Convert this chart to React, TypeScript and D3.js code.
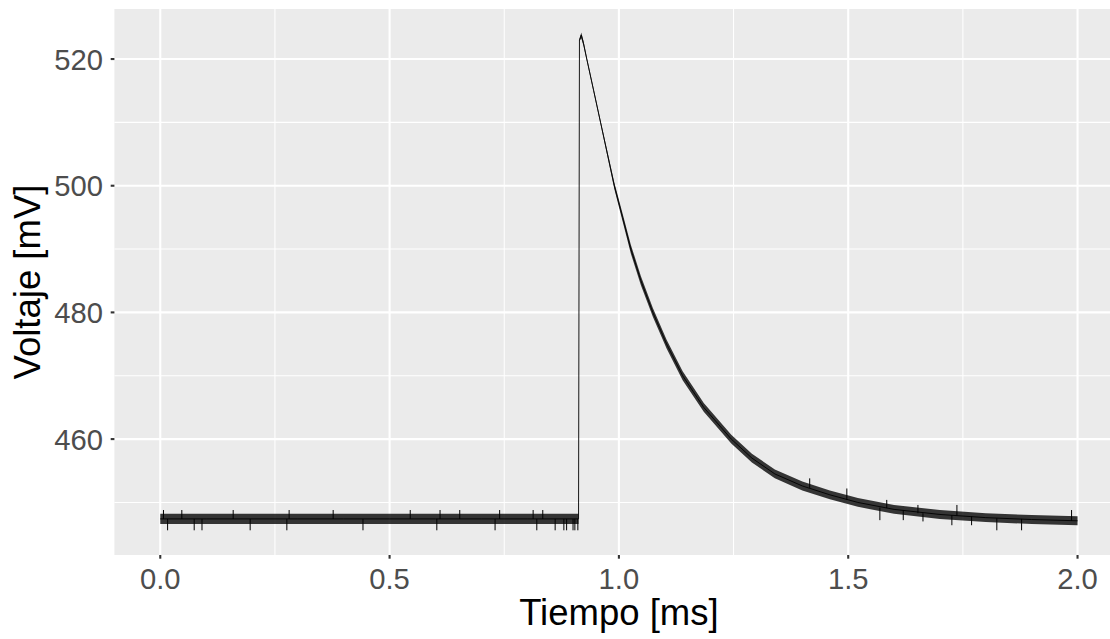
import React from "react";
import * as d3 from "d3";

// Trace (time in ms, voltage in mV)
const timeMs = [
  0.0, 0.1, 0.2, 0.3, 0.4, 0.5, 0.6, 0.7, 0.8, 0.912,
  0.914, 0.918, 0.923, 0.93, 0.945, 0.96, 0.975, 0.99, 1.008, 1.026,
  1.048, 1.074, 1.104, 1.139, 1.185, 1.245, 1.29, 1.34, 1.4, 1.46,
  1.521, 1.6, 1.7, 1.8, 1.9, 2.0,
];
const voltageMv = [
  447.4, 447.4, 447.4, 447.4, 447.4, 447.4, 447.4, 447.4, 447.4, 447.4,
  523.0, 523.8, 522.4, 520.0, 515.0, 510.0, 505.0, 500.0, 495.0, 490.0,
  485.0, 480.0, 475.0, 470.0, 465.0, 460.0, 457.0, 454.5, 452.6, 451.2,
  450.0, 448.9, 448.1, 447.6, 447.3, 447.1,
];
// Dense noise band (lower / upper edges)
const lowMv = [
  446.6, 446.6, 446.6, 446.6, 446.6, 446.6, 446.6, 446.6, 446.6, 446.6,
  522.8, 523.3, 522.0, 519.7, 514.7, 509.7, 504.6, 499.5, 494.4, 489.3,
  484.3, 479.3, 474.3, 469.3, 464.3, 459.3, 456.3, 453.8, 451.9, 450.5,
  449.3, 448.2, 447.4, 446.9, 446.6, 446.4,
];
const highMv = [
  448.2, 448.2, 448.2, 448.2, 448.2, 448.2, 448.2, 448.2, 448.2, 448.2,
  523.2, 524.2, 522.8, 520.3, 515.3, 510.3, 505.4, 500.5, 495.6, 490.7,
  485.7, 480.7, 475.7, 470.7, 465.7, 460.7, 457.7, 455.2, 453.3, 451.9,
  450.7, 449.6, 448.8, 448.3, 448.0, 447.8,
];
// Individual noise spikes visible in the picture
const spikeTimeMs = [
  0.016, 0.074, 0.091, 0.196, 0.276, 0.442, 0.603, 0.73, 0.821, 0.861, 0.88, 0.886, 0.9, 0.904, 0.9105,
  0.007, 0.047, 0.159, 0.281, 0.377, 0.545, 0.61, 0.653, 0.74, 0.813, 0.834,
  1.569, 1.62, 1.663, 1.726, 1.769, 1.824, 1.878,
  1.416, 1.497, 1.584, 1.652, 1.737, 1.987,
];
const spikeLowMv = [
  445.6, 445.6, 445.6, 445.6, 445.6, 445.6, 445.6, 445.6, 445.6, 445.6, 445.6, 445.6, 445.6, 445.6, 445.6,
  447.4, 447.4, 447.4, 447.4, 447.4, 447.4, 447.4, 447.4, 447.4, 447.4, 447.4,
  447.2, 447.2, 447.0, 446.4, 446.4, 445.6, 445.6,
  452.3, 450.4, 449.1, 448.3, 447.9, 447.1,
];
const spikeHighMv = [
  447.4, 447.4, 447.4, 447.4, 447.4, 447.4, 447.4, 447.4, 447.4, 447.4, 447.4, 447.4, 447.4, 447.4, 447.4,
  448.8, 448.8, 448.8, 448.8, 448.8, 448.8, 448.8, 448.8, 448.8, 448.8, 448.8,
  449.2, 448.8, 448.3, 448.0, 447.8, 447.5, 447.4,
  453.8, 452.2, 450.4, 449.6, 449.6, 448.8,
];

const xTicks = [0, 0.5, 1, 1.5, 2];
const xTickLabels = ["0.0", "0.5", "1.0", "1.5", "2.0"];
const xMinor = [0.25, 0.75, 1.25, 1.75];
const yTicks = [460, 480, 500, 520];
const yTickLabels = ["460", "480", "500", "520"];
const yMinor = [450, 470, 490, 510];

const W = 1110;
const H = 639;
const FONT = "'Liberation Sans', Arial, Helvetica, sans-serif";

export default function App() {
  const left = 114.4;
  const right = 1123.4;
  const top = 9;
  const bottom = 555;
  const x = d3.scaleLinear().domain([-0.1, 2.1]).range([left, right]);
  const y = d3.scaleLinear().domain([441.7, 527.9]).range([bottom, top]);

  const pts = timeMs.map((t, i) => ({ t, v: voltageMv[i], lo: lowMv[i], hi: highMv[i] }));
  const area = d3
    .area<any>()
    .x((d) => x(d.t))
    .y0((d) => y(d.lo))
    .y1((d) => y(d.hi));
  const line = d3
    .line<any>()
    .x((d) => x(d.t))
    .y((d) => y(d.v));

  const fs = 29.2;
  const titleFs = 36.5;

  return (
    <svg
      width={W}
      height={H}
      style={{ position: "absolute", left: 0, top: 0, background: "#fff" }}
      fontFamily={FONT}
    >
      <defs>
        <clipPath id="panel">
          <rect x={left} y={top} width={right - left} height={bottom - top} />
        </clipPath>
      </defs>
      <rect x={left} y={top} width={right - left} height={bottom - top} fill="#EBEBEB" />
      {xMinor.map((t) => (
        <line key={"xm" + t} x1={x(t)} x2={x(t)} y1={top} y2={bottom} stroke="#fff" strokeWidth={1.05} />
      ))}
      {yMinor.map((v) => (
        <line key={"ym" + v} x1={left} x2={right} y1={y(v)} y2={y(v)} stroke="#fff" strokeWidth={1.05} />
      ))}
      {xTicks.map((t) => (
        <line key={"xM" + t} x1={x(t)} x2={x(t)} y1={top} y2={bottom} stroke="#fff" strokeWidth={2.1} />
      ))}
      {yTicks.map((v) => (
        <line key={"yM" + v} x1={left} x2={right} y1={y(v)} y2={y(v)} stroke="#fff" strokeWidth={2.1} />
      ))}
      <g clipPath="url(#panel)">
        <path d={area(pts) || ""} fill="#000" fillOpacity={0.78} stroke="none" />
        {spikeTimeMs.map((t, i) => (
          <line
            key={"s" + i}
            x1={x(t)}
            x2={x(t)}
            y1={y(spikeLowMv[i])}
            y2={y(spikeHighMv[i])}
            stroke="#000"
            strokeWidth={1}
          />
        ))}
        <path d={line(pts) || ""} fill="none" stroke="#000" strokeWidth={0.9} />
      </g>
      {/* axes ticks */}
      {xTicks.map((t, i) => (
        <g key={"xt" + t}>
          <line x1={x(t)} x2={x(t)} y1={bottom} y2={bottom + 3.7} stroke="#333" strokeWidth={2.1} />
          <text x={x(t)} y={589.3} textAnchor="middle" fontSize={fs} fill="#4D4D4D">
            {xTickLabels[i]}
          </text>
        </g>
      ))}
      {yTicks.map((v, i) => (
        <g key={"yt" + v}>
          <line x1={left - 3.7} x2={left} y1={y(v)} y2={y(v)} stroke="#333" strokeWidth={2.1} />
          <text x={103} y={y(v) + 10.5} textAnchor="end" fontSize={fs} fill="#4D4D4D">
            {yTickLabels[i]}
          </text>
        </g>
      ))}
      <text x={(left + right) / 2} y={625} textAnchor="middle" fontSize={titleFs} fill="#000">
        Tiempo [ms]
      </text>
      <text
        transform={`translate(40,${(top + bottom) / 2}) rotate(-90)`}
        textAnchor="middle"
        fontSize={titleFs}
        fill="#000"
      >
        Voltaje [mV]
      </text>
    </svg>
  );
}
